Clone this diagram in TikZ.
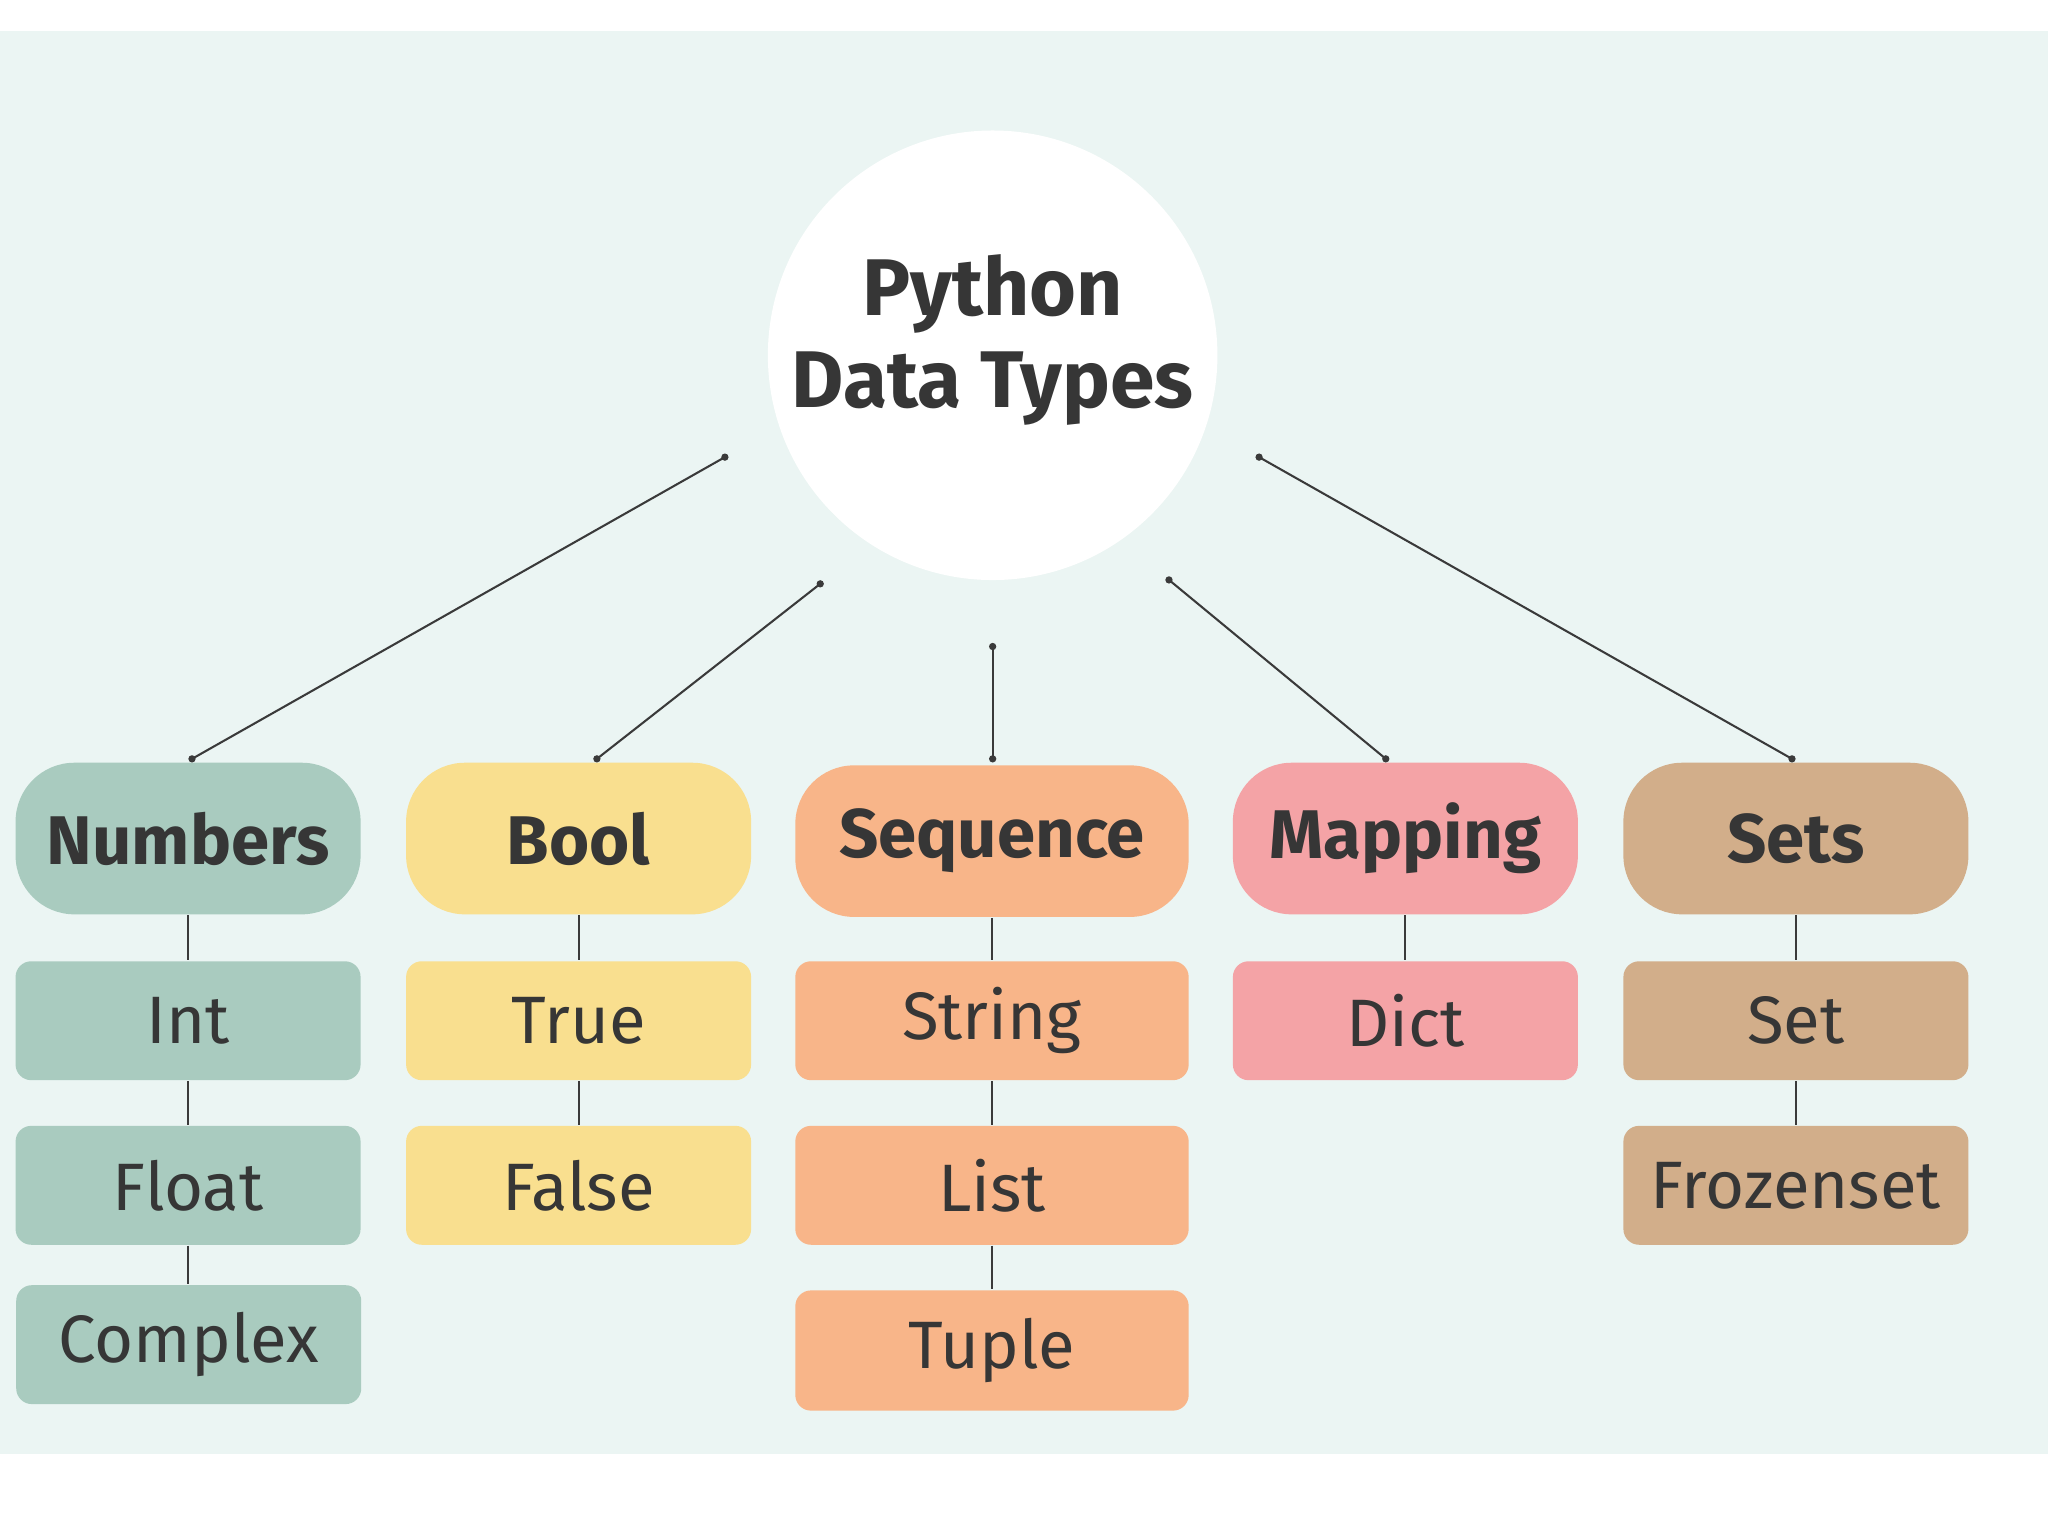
\documentclass[tikz,border=0pt]{standalone}
\usepackage{fontspec}
\setmainfont{Fira Sans}
\definecolor{bgc}{HTML}{EBF5F3}
\definecolor{ink}{HTML}{363636}
\definecolor{linec}{HTML}{3A3A3A}
\definecolor{numc}{HTML}{A9CBBF}
\definecolor{boolc}{HTML}{F9DF8F}
\definecolor{seqc}{HTML}{F8B589}
\definecolor{mapc}{HTML}{F4A3A6}
\definecolor{setc}{HTML}{D2AE8A}
\tikzset{
  head/.style={draw=none, minimum width=2.64cm, minimum height=1.16cm, rounded corners=0.45cm, text=ink, font=\fontsize{15}{18}\selectfont\bfseries, inner sep=0pt},
  leaf/.style={draw=none, minimum width=2.64cm, minimum height=0.91cm, rounded corners=0.12cm, text=ink, font=\fontsize{14.6}{18}\selectfont, inner sep=0pt},
  wide/.style={minimum width=3.01cm},
  conn/.style={draw=linec, line width=0.45pt},
  dotc/.style={fill=linec}
}
\begin{document}
\begin{tikzpicture}[x=0.01cm, y=-0.01cm]
\useasboundingbox (0,0) rectangle (1568,1176);
\fill[white] (0,0) rectangle (1568,1176);
\fill[bgc] (0,24) rectangle (1568,1113);
\fill[white] (760,272) circle (1.72cm);
\node[text=ink, font=\fontsize{17.5}{21}\selectfont\bfseries, align=center] (title) at (760,260) {Python\\[-1pt]Data Types};

% headers
\node[head, fill=numc] (num) at (144,642) {Numbers};
\node[head, fill=boolc] (bool) at (443,642) {Bool};
\node[head, wide, fill=seqc] (seq) at (759.5,644) {Sequence};
\node[head, fill=mapc] (map) at (1076,642) {Mapping};
\node[head, fill=setc] (sets) at (1375,642) {Sets};

% leaves
\node[leaf, fill=numc] (int) at (144,781.5) {Int};
\node[leaf, fill=numc] (float) at (144,907.5) {Float};
\node[leaf, fill=numc] (complex) at (144.5,1029.5) {Complex};
\node[leaf, fill=boolc] (true) at (443,781.5) {True};
\node[leaf, fill=boolc] (false) at (443,907.5) {False};
\node[leaf, wide, fill=seqc] (string) at (759.5,781.5) {String};
\node[leaf, wide, fill=seqc] (list) at (759.5,907.5) {List};
\node[leaf, wide, fill=seqc, minimum height=0.92cm] (tuple) at (759.5,1034) {Tuple};
\node[leaf, fill=mapc] (dict) at (1076,781.5) {Dict};
\node[leaf, fill=setc] (set) at (1375,781.5) {Set};
\node[leaf, fill=setc] (frozen) at (1375,907.5) {Frozenset};

% upper ends of the connectors
\coordinate (cn) at (555,350);
\coordinate (cb) at (628,447);
\coordinate (cs) at (760,495);
\coordinate (cm) at (895,444);
\coordinate (ct) at (964,350);
\coordinate (hn) at (147,581);
\coordinate (hb) at (457,581);
\coordinate (hs) at (760,581);
\coordinate (hm) at (1061,581);
\coordinate (ht) at (1372,581);

\draw[conn] (cn) -- (hn);
\draw[conn] (cb) -- (hb);
\draw[conn] (cs) -- (hs);
\draw[conn] (cm) -- (hm);
\draw[conn] (ct) -- (ht);
\foreach \p in {cn,cb,cs,cm,ct,hn,hb,hs,hm,ht} \fill[dotc] (\p) circle (2.8);

% vertical links
\draw[conn] (num.south) -- (int.north);
\draw[conn] (int.south) -- (float.north);
\draw[conn] (float.south) -- (float.south |- complex.north);
\draw[conn] (bool.south) -- (true.north);
\draw[conn] (true.south) -- (false.north);
\draw[conn] (seq.south) -- (string.north);
\draw[conn] (string.south) -- (list.north);
\draw[conn] (list.south) -- (tuple.north);
\draw[conn] (map.south) -- (dict.north);
\draw[conn] (sets.south) -- (set.north);
\draw[conn] (set.south) -- (frozen.north);
\end{tikzpicture}
\end{document}
